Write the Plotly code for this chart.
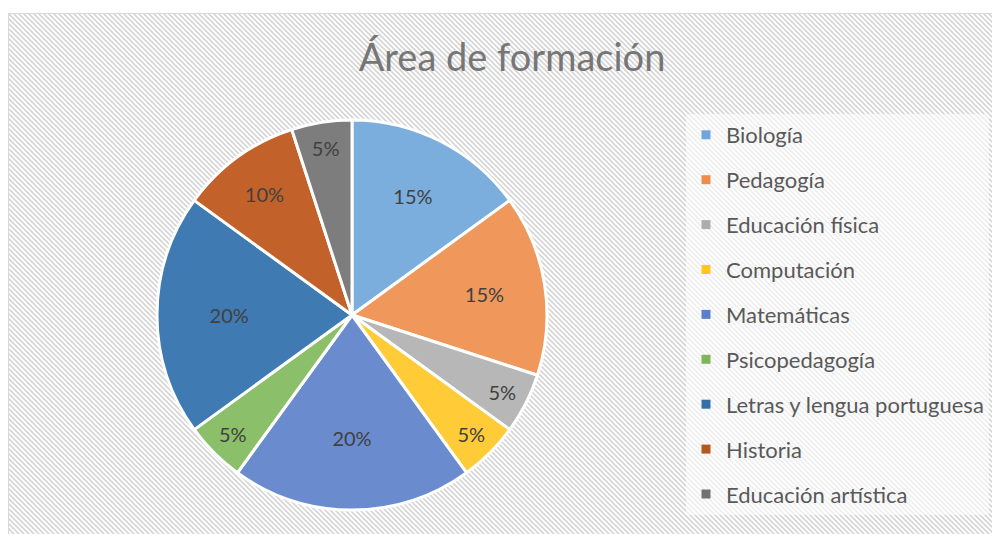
import base64
import plotly.graph_objects as go

# ---- data ----
categories = ["Biología", "Pedagogía", "Educación física", "Computación", "Matemáticas",
              "Psicopedagogía", "Letras y lengua portuguesa", "Historia", "Educación artística"]
values = [15, 15, 5, 5, 20, 5, 20, 10, 5]
colors = ["#7BAEDD", "#F0985C", "#B7B7B7", "#FFCC38", "#6A8CCF",
          "#8BBF69", "#3F7BB2", "#C2622A", "#7D7D7D"]
legend_colors = ["#6FA7DA", "#EF8C4A", "#ADADAD", "#FFC61F", "#5B80CB",
                 "#7EB75A", "#3270A6", "#B5591F", "#727272"]
title_text = "Área de formación"

W, H = 1000, 534
OFF = 8  # page body margin


def fx(px):
    return (px - OFF) / W


def fy(py):
    return 1 - (py - OFF) / H


# hatched chart background (decoration)
bw, bh = W, H
svg = (
    f'<svg xmlns="http://www.w3.org/2000/svg" width="{bw}" height="{bh}">'
    '<defs><pattern id="p" patternUnits="userSpaceOnUse" width="5" height="5">'
    '<path d="M0,0 L5,5 M-1,4 L1,6 M4,-1 L6,1" stroke="#d6d6d6" stroke-width="1.7"/>'
    '</pattern></defs>'
    f'<rect width="{bw}" height="{bh}" fill="white"/>'
    f'<rect width="{bw}" height="{bh}" fill="url(#p)"/></svg>'
)
svg_uri = "data:image/svg+xml;base64," + base64.b64encode(svg.encode()).decode()

fig = go.Figure()

fig.add_trace(go.Pie(
    labels=categories,
    values=values,
    sort=False,
    direction="clockwise",
    rotation=0,
    marker=dict(colors=colors, line=dict(color="white", width=3)),
    texttemplate="%{percent:.0%}",
    textposition="inside",
    insidetextorientation="horizontal",
    textfont=dict(family="Lato", size=20, color="#404040"),
    domain=dict(x=[fx(157), fx(547)], y=[fy(510), fy(120)]),
    showlegend=False,
    hoverinfo="label+percent",
))

# legend entries
for i, (cat, col) in enumerate(zip(categories, legend_colors)):
    fig.add_trace(go.Scatter(
        x=[None], y=[None], mode="markers", name=cat,
        legendgroup=f"g{i}",
        marker=dict(symbol="square", size=9, color=col),
        showlegend=True, hoverinfo="skip",
    ))

fig.update_layout(
    width=W, height=H,
    margin=dict(l=0, r=0, t=0, b=0),
    paper_bgcolor="white",
    plot_bgcolor="rgba(0,0,0,0)",
    xaxis=dict(visible=False), yaxis=dict(visible=False),
    uniformtext=dict(minsize=20, mode="show"),
    title=dict(text=title_text, x=fx(512), xanchor="center", y=fy(58), yanchor="middle",
               font=dict(family="Lato", size=38, color="#767676")),
    legend=dict(x=fx(686), xanchor="left", y=fy(114), yanchor="top",
                font=dict(family="Lato", size=22, color="#595959"),
                bgcolor="rgba(255,255,255,0.6)", tracegroupgap=13.3,
                traceorder="grouped"),
    images=[dict(source=svg_uri, xref="paper", yref="paper", x=fx(8), y=fy(13),
                 sizex=1.0, sizey=1.0, xanchor="left", yanchor="top",
                 sizing="stretch", layer="below")],
    shapes=[dict(type="rect", xref="paper", yref="paper", x0=fx(8.5), x1=1.02,
                 y0=-0.02, y1=fy(13.5), line=dict(color="#d9d9d9", width=1))],
)

fig.write_html("out.html")
